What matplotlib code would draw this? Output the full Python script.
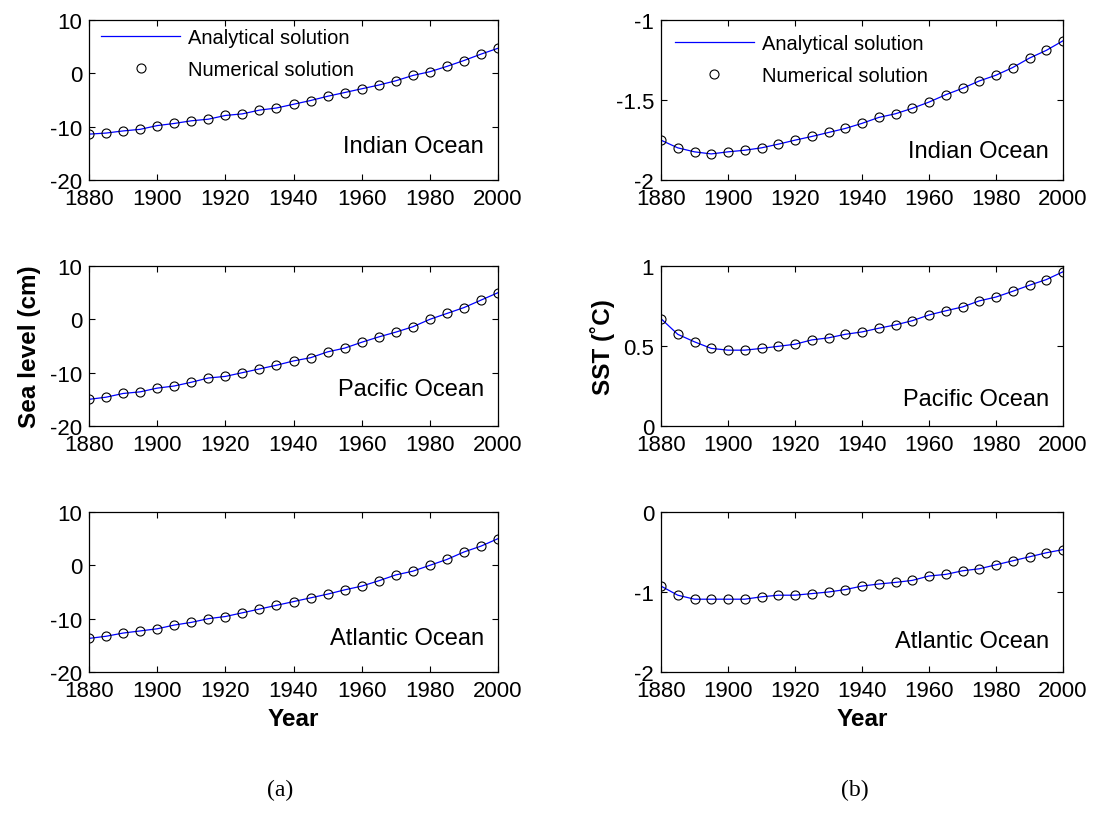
import numpy as np
import matplotlib
matplotlib.use("Agg")
import matplotlib.pyplot as plt

plt.rcParams['font.family'] = ['Liberation Sans', 'DejaVu Sans']

# --- data: every 5 years, 1880-2000 ---
years = np.arange(1880, 2001, 5)

sea_indian = [-11.4, -11.2, -10.8, -10.5, -9.8, -9.4, -8.9, -8.6, -7.9, -7.6,
              -6.9, -6.5, -5.8, -5.1, -4.3, -3.6, -2.9, -2.2, -1.4, -0.4,
              0.3, 1.3, 2.4, 3.6, 4.7]
sea_pacific = [-15.0, -14.6, -13.9, -13.6, -12.9, -12.5, -11.8, -11.0, -10.7, -10.0,
               -9.3, -8.6, -7.8, -7.2, -6.1, -5.4, -4.3, -3.3, -2.4, -1.4,
               0.0, 1.1, 2.2, 3.6, 5.0]
sea_atlantic = [-13.7, -13.3, -12.7, -12.3, -11.9, -11.2, -10.7, -10.0, -9.6, -8.9,
                -8.2, -7.5, -6.8, -6.1, -5.4, -4.6, -3.9, -2.9, -1.8, -1.1,
                0.0, 1.1, 2.5, 3.6, 5.0]

sst_indian = [-1.751, -1.799, -1.824, -1.837, -1.824, -1.814, -1.799, -1.776, -1.751, -1.728,
              -1.703, -1.678, -1.646, -1.609, -1.586, -1.552, -1.513, -1.467, -1.427, -1.381,
              -1.345, -1.297, -1.238, -1.190, -1.130]
sst_pacific = [0.671, 0.573, 0.526, 0.485, 0.474, 0.474, 0.485, 0.498, 0.511, 0.538,
               0.551, 0.573, 0.588, 0.611, 0.632, 0.658, 0.694, 0.720, 0.744, 0.782,
               0.806, 0.842, 0.880, 0.915, 0.964]
sst_atlantic = [-0.926, -1.04, -1.09, -1.09, -1.09, -1.09, -1.06, -1.04, -1.04, -1.02,
                -1.00, -0.97, -0.926, -0.90, -0.88, -0.855, -0.80, -0.78, -0.735, -0.71,
                -0.66, -0.61, -0.56, -0.51, -0.47]

oceans = ["Indian Ocean", "Pacific Ocean", "Atlantic Ocean"]
sea_series = [sea_indian, sea_pacific, sea_atlantic]
sst_series = [sst_indian, sst_pacific, sst_atlantic]
sea_ylims = [(-20, 10), (-20, 10), (-20, 10)]
sea_yticks = [[-20, -10, 0, 10]] * 3
sst_ylims = [(-2, -1), (0, 1), (-2, 0)]
sst_yticks = [[-2, -1.5, -1], [0, 0.5, 1], [-2, -1, 0]]
xticks = [1880, 1900, 1920, 1940, 1960, 1980, 2000]

W, H = 1101, 829
fig = plt.figure(figsize=(W / 100, H / 100), dpi=100)


def px_axes(x0, y0, x1, y1):
    return fig.add_axes([x0 / W, 1 - y1 / H, (x1 - x0) / W, (y1 - y0) / H])


rows_px = [(21, 181), (267, 427), (513, 673)]
cols_px = [(89, 498), (661, 1063)]
label_y = [[0.21, 0.23, 0.21], [0.18, 0.17, 0.195]]

TICK_FS = 16
NAME_FS = 17
LEG_FS = 14.5
LAB_FS = 17.5


def draw_panel(ax, y, ylim, yticks, name, ly, legend_anchor=None):
    ax.plot(years, y, color='blue', lw=0.9, label='Analytical solution')
    ax.plot(years, y, ls='none', marker='o', ms=6.5, mfc='none', mec='black',
            mew=0.8, label='Numerical solution')
    ax.set_xlim(1880, 2000)
    ax.set_ylim(*ylim)
    ax.set_xticks(xticks)
    ax.set_yticks(yticks)
    ax.set_yticklabels([f"{t:g}" for t in yticks])
    ax.tick_params(direction='in', top=True, right=True, labelsize=TICK_FS,
                   length=4.5, width=0.8)
    ax.tick_params(axis='x', pad=6)
    ax.tick_params(axis='y', pad=5)
    for s in ax.spines.values():
        s.set_linewidth(0.9)
    ax.text(0.965, ly, name, transform=ax.transAxes, ha='right', va='center',
            fontsize=NAME_FS)
    if legend_anchor is not None:
        ax.legend(loc='upper left', bbox_to_anchor=legend_anchor, frameon=False,
                  fontsize=LEG_FS, handlelength=3.9, handletextpad=0.4,
                  labelspacing=0.65, borderaxespad=0, borderpad=0)


axes = {}
for r, (y0, y1) in enumerate(rows_px):
    for c, (x0, x1) in enumerate(cols_px):
        ax = px_axes(x0, y0, x1, y1)
        axes[(r, c)] = ax
        if c == 0:
            draw_panel(ax, sea_series[r], sea_ylims[r], sea_yticks[r], oceans[r],
                       label_y[c][r], (0.03, 0.95) if r == 0 else None)
        else:
            draw_panel(ax, sst_series[r], sst_ylims[r], sst_yticks[r], oceans[r],
                       label_y[c][r], (0.035, 0.91) if r == 0 else None)

axes[(1, 0)].set_ylabel("Sea level (cm)", fontsize=LAB_FS, fontweight='bold', labelpad=6)
axes[(1, 1)].set_ylabel("SST (\u02daC)", fontsize=LAB_FS, fontweight='bold', labelpad=6)
for c in range(2):
    axes[(2, c)].set_xlabel("Year", fontsize=LAB_FS, fontweight='bold', labelpad=4)

fig.text(280 / W, 1 - 790 / H, "(a)", ha='center', va='center', fontsize=17,
         family='Liberation Serif')
fig.text(855 / W, 1 - 790 / H, "(b)", ha='center', va='center', fontsize=17,
         family='Liberation Serif')

fig.savefig("out.png", dpi=100)
